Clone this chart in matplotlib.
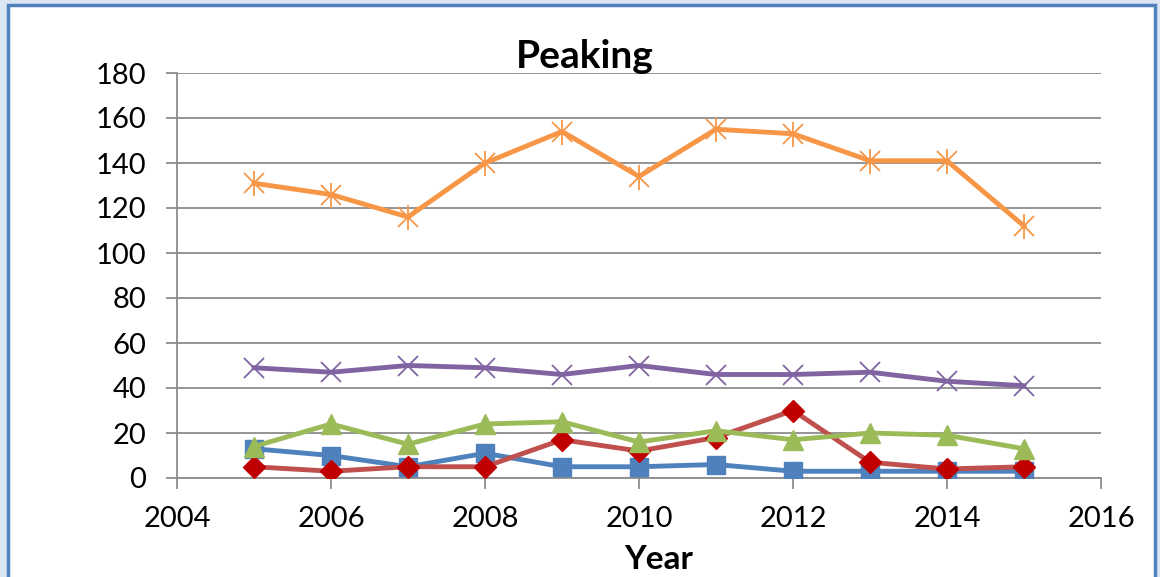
import matplotlib.pyplot as plt
from matplotlib.patches import Rectangle

years = [2005, 2006, 2007, 2008, 2009, 2010, 2011, 2012, 2013, 2014, 2015]
blue_vals = [13, 10, 5, 11, 5, 5, 6, 3, 3, 3, 3]
red_vals = [5, 3, 5, 5, 17, 12, 18, 30, 7, 4, 5]
green_vals = [14, 24, 15, 24, 25, 16, 21, 17, 20, 19, 13]
purple_vals = [49, 47, 50, 49, 46, 50, 46, 46, 47, 43, 41]
orange_vals = [131, 126, 116, 140, 154, 134, 155, 153, 141, 141, 112]

plt.rcParams['font.family'] = ['Lato', 'DejaVu Sans']

fig = plt.figure(figsize=(11.6, 5.77), dpi=100)
fig.patch.set_facecolor('#dce6f2')
W, H = 1160, 577
fig.patches.append(Rectangle((8 / W, -0.05), (1155 - 8) / W, 1.05 - 5 / H,
                             transform=fig.transFigure, facecolor='white',
                             edgecolor='#4f81bd', linewidth=2.5, zorder=-10))

ax = fig.add_axes([177 / W, 1 - 478 / H, (1101 - 177) / W, (478 - 73) / H])
ax.set_facecolor('none')

lw = 3.5
ax.plot(years, blue_vals, color='#4f81bd', lw=lw, marker='s', ms=13,
        mfc='#4f81bd', mec='#4f81bd', zorder=3)
ax.plot(years, red_vals, color='#c0504d', lw=lw, marker='D', ms=11,
        mfc='#c00000', mec='#c00000', zorder=4)
ax.plot(years, green_vals, color='#9bbb59', lw=lw, marker='^', ms=14,
        mfc='#9bbb59', mec='#9bbb59', zorder=5)
ax.plot(years, purple_vals, color='#8064a2', lw=lw, marker='x', ms=14,
        mew=1.3, mec='#8064a2', zorder=6)
ax.plot(years, orange_vals, color='#f79646', lw=lw, marker='x', ms=14,
        mew=1.3, mec='#f79646', zorder=7)
ax.plot(years, orange_vals, ls='none', marker='|', ms=18,
        mew=1.3, mec='#f79646', zorder=7)

ax.set_xlim(2004, 2016)
ax.set_ylim(0, 180)
ax.set_xticks(range(2004, 2017, 2))
ax.set_yticks(range(0, 181, 20))
ax.grid(axis='y', color='#8c8c8c', lw=1.3)
ax.set_axisbelow(True)
for s in ['top', 'right']:
    ax.spines[s].set_visible(False)
ax.spines['left'].set_color('#8c8c8c')
ax.spines['bottom'].set_color('#8c8c8c')
ax.spines['left'].set_linewidth(1.3)
ax.spines['bottom'].set_linewidth(1.3)
ax.tick_params(axis='both', color='#8c8c8c', width=1.3, length=8,
               labelsize=21)
ax.tick_params(axis='x', pad=12)
ax.tick_params(axis='y', pad=14)

fig.text(585 / W, 1 - 68 / H, 'Peaking', fontsize=28, fontweight='bold',
         ha='center', va='baseline')
fig.text(659 / W, 1 - 569 / H, 'Year', fontsize=24, fontweight='bold',
         ha='center', va='baseline')

fig.savefig('out.png', dpi=100, facecolor=fig.get_facecolor())
